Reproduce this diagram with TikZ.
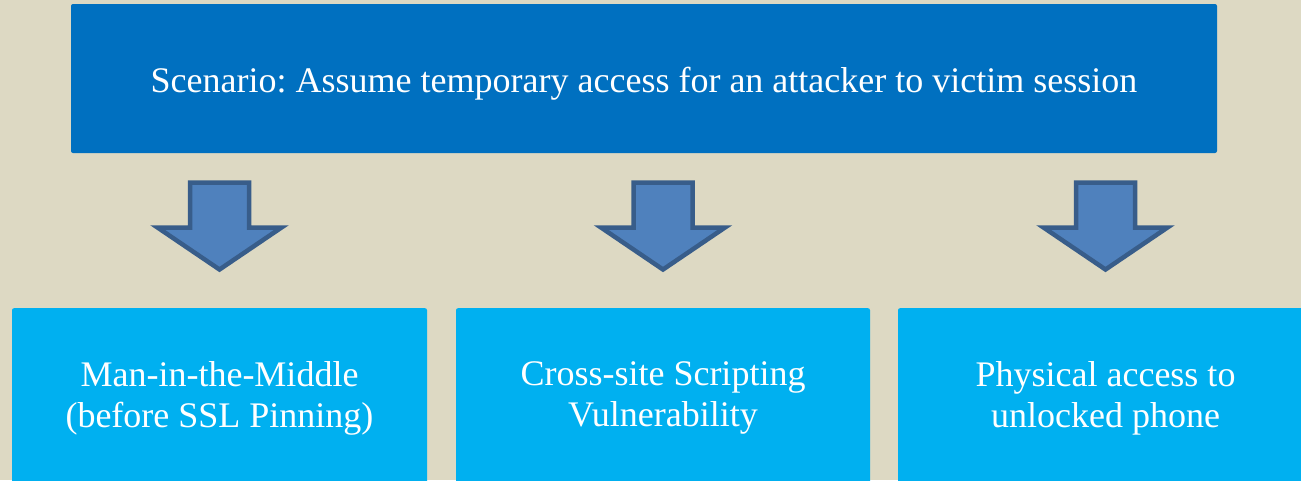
\documentclass[tikz,border=0pt]{standalone}
\usepackage{fontspec}
\setmainfont{Liberation Serif}
\frenchspacing
\definecolor{bgc}{RGB}{221,217,195}
\definecolor{topc}{RGB}{0,112,192}
\definecolor{botc}{RGB}{0,176,240}
\definecolor{arrf}{RGB}{79,129,189}
\definecolor{arrd}{RGB}{56,93,138}
\tikzset{
  topbox/.style={fill=topc, rounded corners=2pt, inner sep=0pt, minimum width=1146pt, minimum height=149pt,
    text height=27pt, text depth=0pt, text=white, font=\fontsize{36}{41}\selectfont},
  botbox/.style={fill=botc, rounded corners=2pt, inner sep=0pt, minimum width=415pt, minimum height=180pt,
    text=white, align=center, font=\fontsize{36}{41}\selectfont},
  blockarrow/.style={fill=arrf, draw=arrd, line width=4.5pt, line join=miter},
  pics/downarrow/.style={code={
    \path[blockarrow] (-29.5,0) -- (29.5,0) -- (29.5,45) -- (62,45) -- (0,87) -- (-62,45) -- (-29.5,45) -- cycle;
  }}
}
\begin{document}
\begin{tikzpicture}[x=1pt,y=-1pt]
\fill[bgc] (0,0) rectangle (1301,480);
\useasboundingbox (0,0) rectangle (1301,480);
\clip (0,0) rectangle (1301,480);
\node[topbox] (scen) at (644,78.5) {Scenario: Assume temporary access for an attacker to victim session};
\node[botbox, anchor=north] (mitm) at (219.5,308) {Man-in-the-Middle\\(before SSL Pinning)};
\node[botbox, anchor=north, minimum width=414pt] (xss) at (663,308) {Cross-site Scripting\\Vulnerability};
\node[botbox, anchor=north] (phys) at (1105.5,308) {Physical access to\\unlocked phone};
\pic at (mitm.north |- 0,182.5) {downarrow};
\pic at (xss.north |- 0,182.5) {downarrow};
\pic at (1105.5,182.5) {downarrow};
\end{tikzpicture}
\end{document}
